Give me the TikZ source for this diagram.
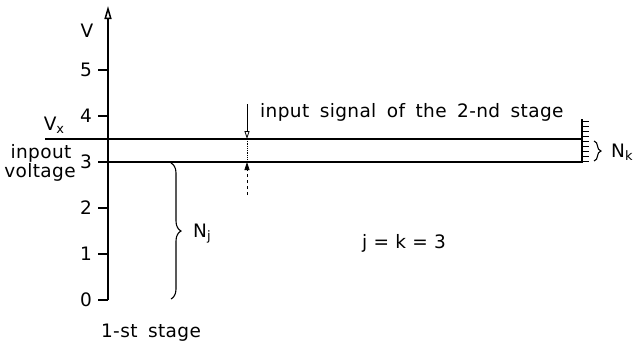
\documentclass[tikz,border=0pt]{standalone}
\usepackage{fontspec}
\setmainfont{DejaVu Sans}[LetterSpace=2]
\usetikzlibrary{arrows.meta,decorations.pathreplacing}
\newcommand{\mysub}[1]{\raisebox{-0.3ex}{\fontsize{13}{13}\selectfont #1}}
\newcommand{\mywidespace}{\spaceskip 10.5pt\relax}
\begin{document}
\begin{tikzpicture}[x=1pt,y=-1pt,
  lbl/.style={inner sep=0pt,font=\fontsize{18.5}{20}\selectfont},
  widelbl/.style={inner sep=0pt,font={\fontsize{18.5}{20}\selectfont\mywidespace}},
  mainline/.style={line width=2.8pt},
  axisline/.style={line width=1.5pt},
  tick/.style={line width=1.3pt},
  bracestyle/.style={decorate,decoration={brace,amplitude=#1},line width=1.1pt}]
\useasboundingbox (0,0) rectangle (640,346);
% axis
\coordinate (o) at (108,300);
\coordinate (top) at (108,6);
\draw[axisline,-{Triangle[open,length=13pt,width=7pt]}] (o) -- (top);
\node[lbl] (vlab) at (87,31) {V};
\foreach \v in {0,...,5}{
  \coordinate (t\v) at (108,300-46*\v);
  \coordinate (tl\v) at (98,300-46*\v);
  \draw[tick] (t\v) -- (tl\v);
  \node[lbl,anchor=east] (n\v) at (92,300-46*\v) {\v};
}
% main lines
\coordinate (ua) at (45,139);
\coordinate (ub) at (582,139);
\coordinate (la) at (108,162);
\coordinate (lb) at (582,162);
\draw[mainline] (ua) -- (ub);
\draw[mainline] (la) -- (lb);
% hatch at right end
\coordinate (ha) at (582,119);
\coordinate (hb) at (582,163);
\draw[tick] (ha) -- (hb);
\foreach \y in {121,126,...,161}{
  \draw[line width=0.9pt] (582,\y) -- (589,\y);
}
% N_k brace
\coordinate (bka) at (594,141);
\coordinate (bkb) at (594,161);
\draw[bracestyle=7pt] (bka) -- (bkb);
\node[lbl,anchor=west] (nk) at (611,152) {N\mysub{k}};
% N_j brace
\coordinate (bja) at (171,163);
\coordinate (bjb) at (171,299);
\draw[bracestyle=10pt] (bja) -- (bjb);
\node[lbl,anchor=west] (nj) at (193,234) {N\mysub{j}};
% input signal marker
\coordinate (sa) at (247,104);
\coordinate (sb) at (247,139);
\coordinate (sc) at (247,162);
\coordinate (sd) at (247,195);
\draw[line width=0.8pt,-{Triangle[open,length=8pt,width=5pt]}] (sa) -- (sb);
\draw[line width=0.8pt,densely dotted] (sb) -- (sc);
\draw[line width=0.8pt,dashed,-{Triangle[length=8pt,width=5pt]}] (sd) -- (sc);
\node[widelbl,anchor=west] (sig) at (260,112) {input signal of the 2-nd stage};
% labels
\node[lbl] (vx) at (54,125) {V\mysub{x}};
\node[lbl] (inp) at (41,153) {inpout};
\node[lbl] (volt) at (40,172) {voltage};
\node[lbl] (jk) at (404,243) {j = k = 3};
\node[widelbl] (st) at (151,333) {1-st stage};
\end{tikzpicture}
\end{document}
